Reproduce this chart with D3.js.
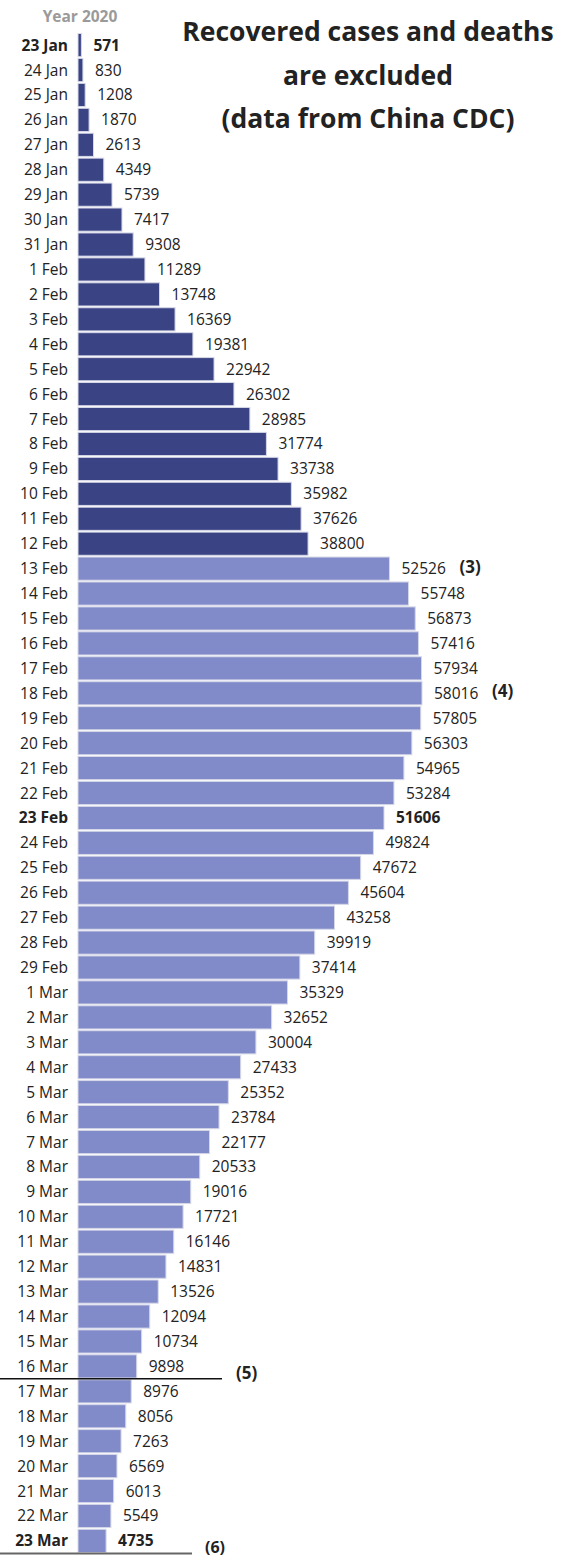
<!DOCTYPE html>
<html>
<head>
<meta charset="utf-8">
<script src="https://cdn.jsdelivr.net/npm/d3@7"></script>
<style>
  body { margin: 0; background: #fff; }
  text { font-family: "Open Sans", "Noto Sans", sans-serif; }
</style>
</head>
<body>
<svg id="chart" width="568" height="1557"></svg>
<script>
// dates and active cases (China CDC, recovered and deaths excluded)
var dates = ["23 Jan","24 Jan","25 Jan","26 Jan","27 Jan","28 Jan","29 Jan","30 Jan","31 Jan",
  "1 Feb","2 Feb","3 Feb","4 Feb","5 Feb","6 Feb","7 Feb","8 Feb","9 Feb","10 Feb","11 Feb","12 Feb",
  "13 Feb","14 Feb","15 Feb","16 Feb","17 Feb","18 Feb","19 Feb","20 Feb","21 Feb","22 Feb","23 Feb",
  "24 Feb","25 Feb","26 Feb","27 Feb","28 Feb","29 Feb",
  "1 Mar","2 Mar","3 Mar","4 Mar","5 Mar","6 Mar","7 Mar","8 Mar","9 Mar","10 Mar","11 Mar","12 Mar",
  "13 Mar","14 Mar","15 Mar","16 Mar","17 Mar","18 Mar","19 Mar","20 Mar","21 Mar","22 Mar","23 Mar"];
var cases = [571,830,1208,1870,2613,4349,5739,7417,9308,
  11289,13748,16369,19381,22942,26302,28985,31774,33738,35982,37626,38800,
  52526,55748,56873,57416,57934,58016,57805,56303,54965,53284,51606,
  49824,47672,45604,43258,39919,37414,
  35329,32652,30004,27433,25352,23784,22177,20533,19016,17721,16146,14831,
  13526,12094,10734,9898,8976,8056,7263,6569,6013,5549,4735];
var boldDates = ["23 Jan","23 Feb","23 Mar"];
var lastDarkDate = "12 Feb";
var notes = [{ date: "13 Feb", label: "(3)" }, { date: "18 Feb", label: "(4)" }];
var titleLines = ["Recovered cases and deaths", "are excluded", "(data from China CDC)"];

var svg = d3.select("#chart"),
  x0 = 78;

var x = d3.scaleLinear().domain([0, 58016]).range([x0, 422]);
var y = d3.scaleBand().domain(dates).range([33.5, 1552.5]).paddingInner(0.07);

var darkIdx = dates.indexOf(lastDarkDate);

svg.append("text")
  .attr("x", 80)
  .attr("y", 22)
  .attr("text-anchor", "middle")
  .style("font-size", "15.5px")
  .style("font-weight", "bold")
  .style("fill", "#9a9a9a")
  .text("Year 2020");

svg.append("g")
  .selectAll("text")
  .data(titleLines)
  .join("text")
  .attr("x", 368)
  .attr("y", (d, i) => 41 + i * 43.5)
  .attr("text-anchor", "middle")
  .style("font-size", "26.5px")
  .style("font-weight", "bold")
  .style("fill", "#222")
  .text(d => d);

var rows = svg.append("g")
  .selectAll("g")
  .data(dates)
  .join("g");

rows.append("rect")
  .attr("x", x0)
  .attr("y", d => y(d))
  .attr("height", y.bandwidth())
  .attr("width", (d, i) => Math.max(1.5, x(cases[i]) - x0))
  .attr("fill", (d, i) => i <= darkIdx ? "#3a4484" : "#818bc9")
  .attr("stroke", "#d6d8e8")
  .attr("stroke-width", 1);

rows.append("text")
  .attr("x", 68)
  .attr("y", d => y(d) + y.bandwidth() / 2 + 5.5)
  .attr("text-anchor", "end")
  .style("font-size", "15.5px")
  .style("font-weight", d => boldDates.includes(d) ? "bold" : "normal")
  .style("fill", "#222")
  .text(d => d);

rows.append("text")
  .attr("x", (d, i) => x(cases[i]) + 12)
  .attr("y", d => y(d) + y.bandwidth() / 2 + 5.5)
  .style("font-size", "15.5px")
  .style("font-weight", d => boldDates.includes(d) ? "bold" : "normal")
  .style("fill", "#222")
  .text((d, i) => cases[i]);

svg.append("g")
  .selectAll("text")
  .data(notes)
  .join("text")
  .attr("x", d => x(cases[dates.indexOf(d.date)]) + 70)
  .attr("y", d => y(d.date) + y.bandwidth() / 2 + 4)
  .style("font-size", "17px")
  .style("font-weight", "bold")
  .style("fill", "#222")
  .text(d => d.label);

// separator after 16 Mar
var sepY = (y("16 Mar") + y.bandwidth() + y("17 Mar")) / 2;
svg.append("line")
  .attr("x1", 0).attr("x2", 222)
  .attr("y1", sepY).attr("y2", sepY)
  .attr("stroke", "#111")
  .attr("stroke-width", 1.5);
svg.append("text")
  .attr("x", 236)
  .attr("y", sepY)
  .style("font-size", "17px")
  .style("font-weight", "bold")
  .style("fill", "#222")
  .text("(5)");

// bottom line
var botY = y("23 Mar") + y.bandwidth() + 1;
svg.append("line")
  .attr("x1", 0).attr("x2", 192)
  .attr("y1", botY).attr("y2", botY)
  .attr("stroke", "#666")
  .attr("stroke-width", 2);
svg.append("text")
  .attr("x", 205)
  .attr("y", 1553)
  .style("font-size", "16px")
  .style("font-weight", "bold")
  .style("fill", "#222")
  .text("(6)");
</script>
</body>
</html>
